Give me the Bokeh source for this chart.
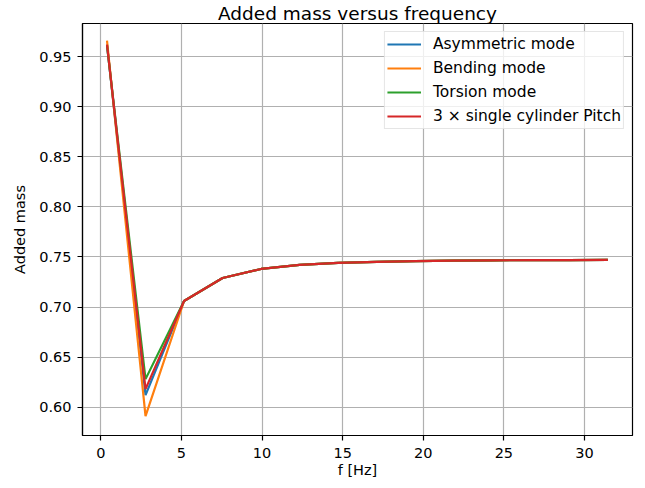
from bokeh.plotting import figure
from bokeh.models import Range1d, FixedTicker, NumeralTickFormatter, Legend, LegendItem
from bokeh.embed import file_html
from bokeh.resources import INLINE

freq = [0.38, 2.77, 5.16, 7.55, 9.94, 12.33, 14.72, 17.11, 19.5, 21.89, 24.28, 26.67, 29.06, 31.45]
asymmetric = [0.962, 0.612, 0.706, 0.729, 0.738, 0.742, 0.744, 0.745, 0.7458, 0.7463, 0.7466, 0.7468, 0.7469, 0.747]
bending = [0.966, 0.591, 0.706, 0.729, 0.738, 0.742, 0.744, 0.745, 0.7458, 0.7463, 0.7466, 0.7468, 0.7469, 0.747]
torsion = [0.961, 0.628, 0.706, 0.729, 0.738, 0.742, 0.744, 0.745, 0.7458, 0.7463, 0.7466, 0.7468, 0.7469, 0.747]
single_pitch = [0.962, 0.618, 0.706, 0.729, 0.738, 0.742, 0.744, 0.745, 0.7458, 0.7463, 0.7466, 0.7468, 0.7469, 0.747]

title_text = "Added mass versus frequency"
x_label = "f [Hz]"
y_label = "Added mass"
labels = ["Asymmetric mode", "Bending mode", "Torsion mode", "3 \u00d7 single cylinder Pitch"]
colors = ["#1f77b4", "#ff7f0e", "#2ca02c", "#d62728"]
x_ticks = [0, 5, 10, 15, 20, 25, 30]
y_ticks = [0.60, 0.65, 0.70, 0.75, 0.80, 0.85, 0.90, 0.95]

FONT = "DejaVu Sans"
FS = "14.5px"

p = figure(width=637, height=480, output_backend="svg", toolbar_location=None,
           x_range=Range1d(-1.14, 32.98), y_range=Range1d(0.5717, 0.9831),
           min_border_left=82, min_border_right=5, min_border_top=0, min_border_bottom=40)

p.title.text = title_text
p.title.align = "center"
p.title.text_font = FONT
p.title.text_font_size = "18.5px"
p.title.text_font_style = "normal"
p.title.text_color = "black"
p.title.offset = 0
p.title.standoff = 0

p.background_fill_color = "white"
p.border_fill_color = "white"
p.outline_line_color = "black"
p.outline_line_width = 1.2
p.outline_line_alpha = 1

for g in (p.xgrid, p.ygrid):
    g.grid_line_color = "#b0b0b0"
    g.grid_line_width = 1.2

p.xaxis.ticker = FixedTicker(ticks=x_ticks)
p.yaxis.ticker = FixedTicker(ticks=y_ticks)
p.yaxis.formatter = NumeralTickFormatter(format="0.00")
p.xgrid.ticker = FixedTicker(ticks=x_ticks)
p.ygrid.ticker = FixedTicker(ticks=y_ticks)

for ax in (p.xaxis, p.yaxis):
    ax.axis_line_color = "black"
    ax.axis_line_width = 1.2
    ax.major_tick_line_color = "black"
    ax.major_tick_line_width = 1.2
    ax.major_tick_out = 5
    ax.major_tick_in = 0
    ax.minor_tick_line_color = None
    ax.major_label_text_font = FONT
    ax.major_label_text_font_size = FS
    ax.major_label_text_color = "black"
    ax.axis_label_text_font = FONT
    ax.axis_label_text_font_size = FS
    ax.axis_label_text_font_style = "normal"
    ax.axis_label_text_color = "black"

p.xaxis.axis_label = x_label
p.yaxis.axis_label = y_label
p.xaxis.major_label_standoff = 7
p.xaxis.axis_label_standoff = 1
p.yaxis.major_label_standoff = 6
p.yaxis.axis_label_standoff = 8

series = [asymmetric, bending, torsion, single_pitch]
items = []
for lab, col, ys in zip(labels, colors, series):
    r = p.line(freq, ys, line_color=col, line_width=2.2)
    items.append(LegendItem(label=lab, renderers=[r]))

legend = Legend(items=items, location="top_right")
legend.label_text_font = FONT
legend.label_text_font_size = "15.5px"
legend.label_text_color = "black"
legend.glyph_width = 34
legend.glyph_height = 20
legend.label_height = 20
legend.label_standoff = 12
legend.spacing = 4
legend.padding = 2
legend.margin = 8
legend.border_line_color = "#cccccc"
legend.border_line_width = 1
legend.background_fill_alpha = 0.8
p.add_layout(legend)

open("out.html", "w").write(file_html(p, INLINE))
